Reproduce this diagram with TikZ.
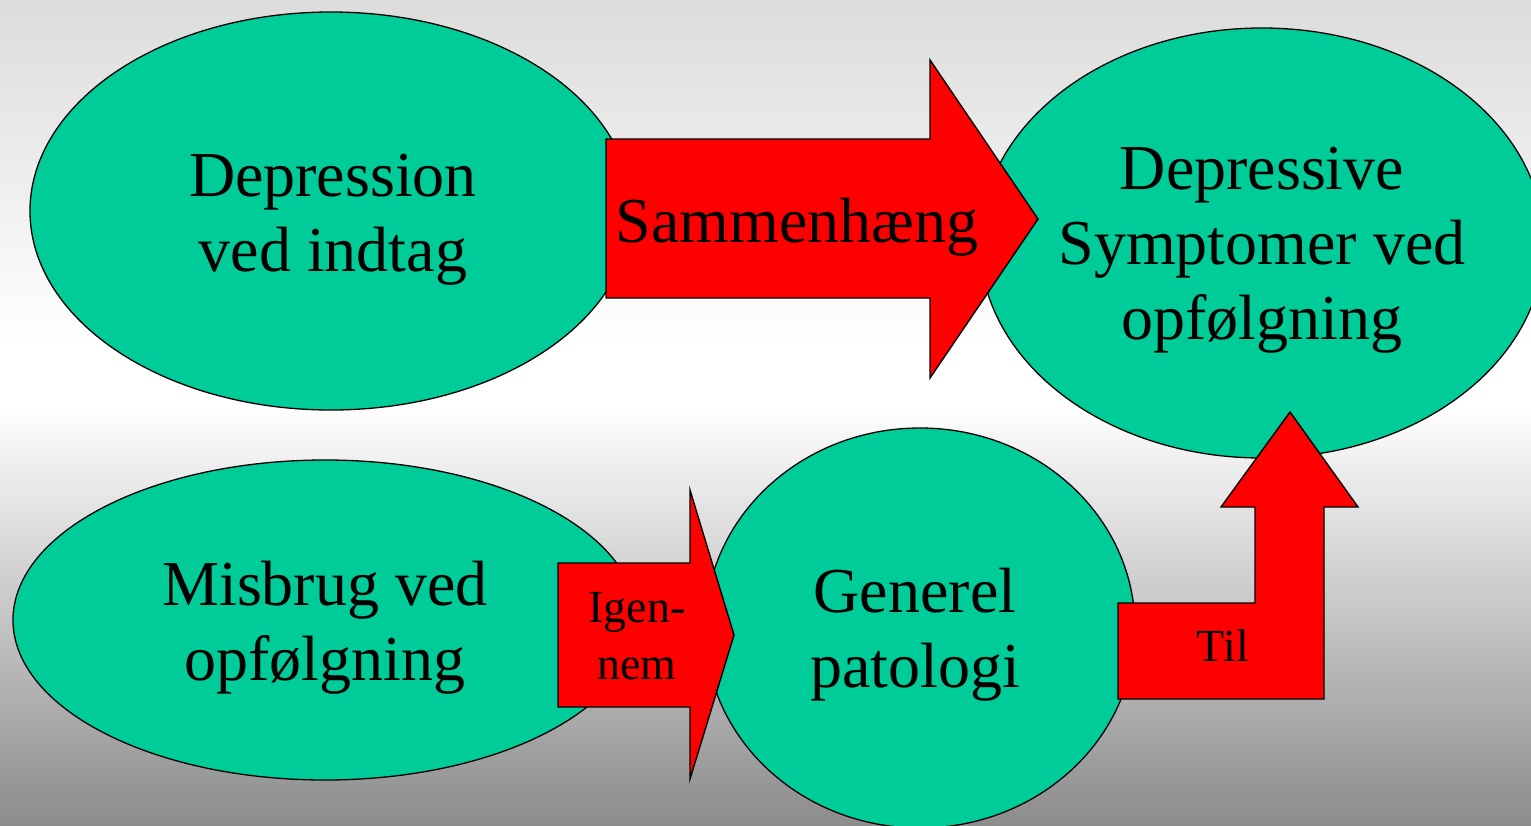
\documentclass[tikz,border=0pt]{standalone}
\usepackage{fontspec}
\setmainfont{Liberation Serif}
\definecolor{blobgreen}{HTML}{00CC99}
\definecolor{bgtop}{HTML}{DCDCDC}
\definecolor{bgbot}{HTML}{8C8C8C}
\pgfdeclareverticalshading{bgshade}{100bp}{color(0bp)=(bgbot); color(25bp)=(bgbot); color(50.5bp)=(white); color(54bp)=(white); color(75bp)=(bgtop); color(100bp)=(bgtop)}
\begin{document}
\begin{tikzpicture}[x=1pt,y=-1pt,
  blob/.style={fill=blobgreen,draw=black,line width=1.3pt},
  blockarrow/.style={fill=red,draw=black,line width=1.4pt,line join=miter},
  big/.style={font=\fontsize{64}{75}\selectfont,align=center,inner sep=0pt},
  small/.style={font=\fontsize{46}{57}\selectfont,align=center,inner sep=0pt}]
\useasboundingbox (0,0) rectangle (1531,825);
\shade[shading=bgshade] (0,0) rectangle (1531,825);
\clip (0,0) rectangle (1531,825);
% ellipses
\path[blob] (331,211) ellipse [x radius=301, y radius=199];
\path[blob] (1262,243) ellipse [x radius=282, y radius=215];
\path[blob] (325,620) ellipse [x radius=312, y radius=160];
\path[blob] (920,628) ellipse [x radius=215, y radius=200];
% block arrows
\draw[blockarrow] (606,139) -- (930,139) -- (930,60) -- (1038,219) -- (930,378) -- (930,298) -- (606,298) -- cycle;
\draw[blockarrow] (558,563) -- (690,563) -- (690,490) -- (734,635) -- (690,779) -- (690,707) -- (558,707) -- cycle;
\draw[blockarrow] (1118,699) -- (1118,603) -- (1255,603) -- (1255,507) -- (1221,507) -- (1290,412) -- (1358,507) -- (1324,507) -- (1324,699) -- cycle;
% texts
\node[big] (depind) at (333,220) {Depression\\ved indtag};
\node[big] (depsym) at (1262,250) {Depressive\\Symptomer ved\\opfølgning};
\node[big] (misbrug) at (325,627.5) {Misbrug ved\\opfølgning};
\node[big] (generel) at (915,634.5) {Generel\\patologi};
\node[big,anchor=base] (samm) at (797,242) {Sammenhæng};
\node[small] (igen) at (637,636.5) {Igen-\\nem};
\node[small,anchor=base] (til) at (1223,661) {Til};
\end{tikzpicture}
\end{document}
